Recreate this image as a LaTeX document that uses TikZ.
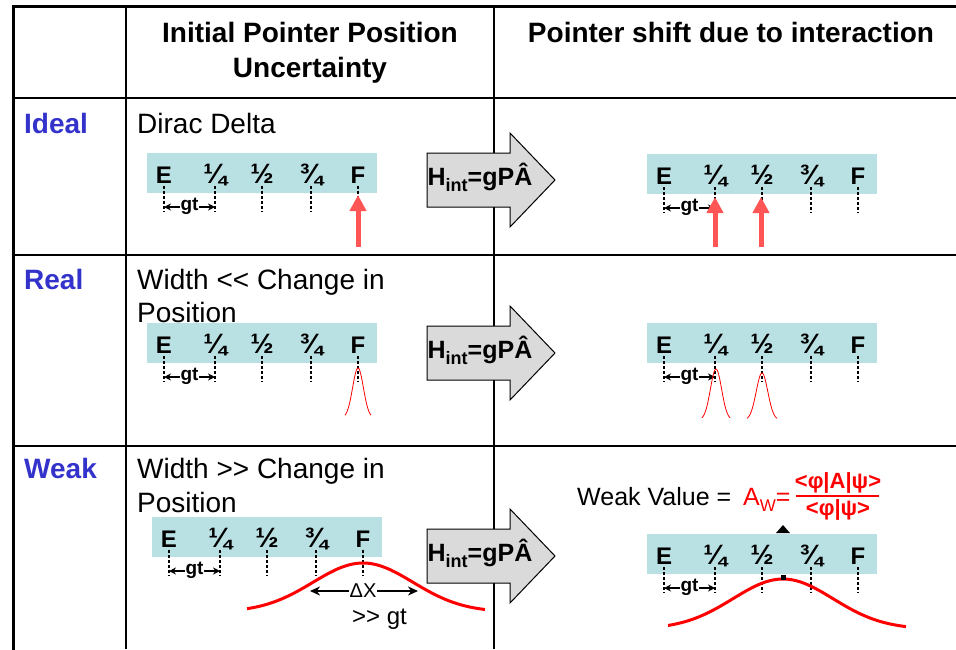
\documentclass[tikz,border=0pt]{standalone}
\usepackage{fontspec}
\setmainfont{Liberation Sans}
\usetikzlibrary{arrows.meta}
\definecolor{rulerbg}{RGB}{185,224,227}
\definecolor{lblblue}{RGB}{51,51,204}
\definecolor{ptrred}{RGB}{255,85,85}
\definecolor{arrowgray}{RGB}{218,218,218}
\newcommand\setfs[1]{\fontsize{#1}{#1}\selectfont}
\tikzset{
  frame/.style={line width=3pt, line cap=rect},
  grid/.style={line width=1.5pt},
  hdr/.style={font=\bfseries\setfs{28}, inner sep=0pt, anchor=base},
  rowlbl/.style={font=\bfseries\setfs{28}, text=lblblue, inner sep=0pt, anchor=base west},
  body/.style={font=\setfs{28}, inner sep=0pt, anchor=base west},
  tickline/.style={line width=1.8pt, dash pattern=on 3pt off 2pt},
  rlabel/.style={inner sep=0pt, anchor=base},
  gtarrow/.style={line width=1.6pt, {Stealth[length=7pt,width=7pt]}-{Stealth[length=7pt,width=7pt]}},
  gtlabel/.style={font=\bfseries\setfs{19}, fill=white, inner sep=0.4pt},
  ptr/.style={draw=ptrred, line width=5pt, -{Triangle[length=16pt,width=16pt]}},
  gthin/.style={draw=red, line width=0.8pt},
  gthick/.style={draw=red, line width=3pt},
  arrowbox/.style={draw=black, line width=1pt, fill=arrowgray},
  hinttext/.style={font=\bfseries\setfs{25}, inner sep=0pt, anchor=base},
  ruler/.pic={
    \fill[rulerbg] (0,0) rectangle (230,40);
    \foreach \px/\lab/\sz [count=\i] in {17/E/24,68/¼/28,115/½/28,164/¾/28,211/F/24}{
      \coordinate (-tt\i) at (\px,33);
      \coordinate (-tb\i) at (\px,59);
      \draw[tickline] (-tt\i) -- (-tb\i);
      \node[rlabel, font=\bfseries\setfs{\sz}] (-l\i) at (\px,30) {\lab};
    }
    \coordinate (-g1) at (17,54);
    \coordinate (-g2) at (68,54);
    \draw[gtarrow] (-g1) -- (-g2);
    \node[gtlabel] (-gt) at (42.5,53.5) {gt};
  },
  hintarrow/.pic={
    \draw[arrowbox] (-52,-27) -- (31,-27) -- (31,-47) -- (76,0) -- (31,47) -- (31,27) -- (-52,27) -- cycle;
    \node[hinttext] (-t) at (1,5) {H\raisebox{-6pt}{\setfs{18}int}=gPÂ};
  }
}
\begin{document}
\begin{tikzpicture}[x=1pt,y=-1pt]
\useasboundingbox (0,0) rectangle (956,649);
\fill[white] (0,0) rectangle (956,649);

% table grid
\draw[grid] (126,6) -- (126,649);
\draw[grid] (494,6) -- (494,649);
\draw[grid] (13,98) -- (956,98);
\draw[grid] (13,255) -- (956,255);
\draw[grid] (13,446) -- (956,446);
\draw[frame] (13,649) -- (13,6) -- (956,6);

% headers
\node[hdr] (h1) at (310,42) {Initial Pointer Position};
\node[hdr] (h1b) at (310,77) {Uncertainty};
\node[hdr] (h2) at (731,42) {Pointer shift due to interaction};

% row labels
\node[rowlbl] (ideal) at (24,133) {Ideal};
\node[rowlbl] (real) at (24,289) {Real};
\node[rowlbl] (weak) at (24,478) {Weak};

\node[body] (d1) at (137,133) {Dirac Delta};
\node[body] (d2) at (137,289) {Width <\kern0pt< Change in};
\node[body] (d2b) at (137,322) {Position};
\node[body] (d3) at (137,478) {Width >\kern0pt> Change in};
\node[body] (d3b) at (137,512) {Position};

% rulers
\pic (rIL) at (147,153) {ruler};
\pic (rIR) at (647,154) {ruler};
\pic (rRL) at (147,323) {ruler};
\pic (rRR) at (647,323) {ruler};
\pic (rWL) at (152,517) {ruler};
\pic (rWR) at (647,534) {ruler};

% interaction arrows
\pic (aI) at (479,180) {hintarrow};
\pic (aR) at (479,353) {hintarrow};
\pic (aW) at (479,556) {hintarrow};

% ideal pointers
\coordinate (p1a) at (358,247); \coordinate (p1b) at (358,195);
\draw[ptr] (p1a) -- (p1b);
\coordinate (p2a) at (715,247); \coordinate (p2b) at (715,197);
\draw[ptr] (p2a) -- (p2b);
\coordinate (p3a) at (761,247); \coordinate (p3b) at (761,197);
\draw[ptr] (p3a) -- (p3b);

% real gaussians
\draw[gthin] plot[domain=-13:13, samples=41, variable=\t] ({358+\t},{418-50*exp(-0.5*(\t/5.4)^2)});
\draw[gthin] plot[domain=-14:14, samples=41, variable=\t] ({716+\t},{420-51*exp(-0.5*(\t/5.6)^2)});
\draw[gthin] plot[domain=-15:15, samples=41, variable=\t] ({762+\t},{420-47*exp(-0.5*(\t/5.8)^2)});

% weak gaussians
\draw[gthick] plot[domain=-116:122, samples=90, variable=\t] ({363+\t},{612-49*exp(-0.5*(\t/50)^2)});
\draw[gthick] plot[domain=-115:123, samples=90, variable=\t] ({783+\t},{629-50*exp(-0.5*(\t/50)^2)});

% Delta X
\coordinate (dxl) at (310,591);
\coordinate (dxr) at (418,591);
\draw[line width=1.6pt, {Stealth[length=10pt,width=9pt]}-{Stealth[length=10pt,width=9pt]}] (dxl) -- (dxr);
\node[font=\setfs{20}, fill=white, inner sep=1pt] (dx) at (363,591) {ΔX};
\node[font=\setfs{24}, inner sep=0pt, anchor=base] (gg) at (379.5,624) {>\kern0pt> gt};

% weak value
\node[font=\setfs{25}, inner sep=0pt, anchor=base west] (wv) at (577,505) {Weak Value =};
\node[font=\setfs{25}, text=red, inner sep=0pt, anchor=base west] (aw) at (743,505) {A\raisebox{-6pt}{\setfs{17}W}=};
\node[font=\bfseries\setfs{22}, text=red, inner sep=0pt] (num) at (838,483) {<φ|A|ψ>};
\coordinate (fl) at (796,496);
\coordinate (fr) at (879,496);
\draw[red, line width=2.5pt] (fl) -- (fr);
\node[font=\bfseries\setfs{22}, text=red, inner sep=0pt] (den) at (838,510) {<φ|ψ>};
\fill (783,525) -- (776,533) -- (790,533) -- cycle;
\fill (780.5,574.5) rectangle (785.5,579.5);
\end{tikzpicture}
\end{document}
